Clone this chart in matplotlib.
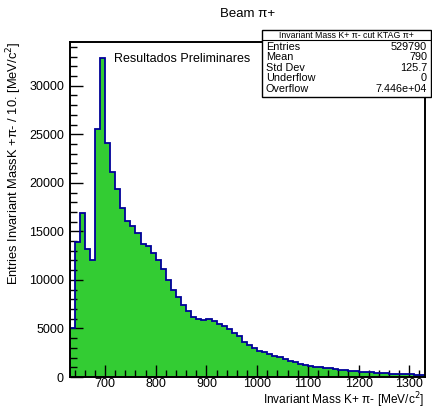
import numpy as np
import matplotlib
matplotlib.use('Agg')
import matplotlib.pyplot as plt
from matplotlib.patches import Rectangle
from matplotlib.ticker import MultipleLocator

plt.rcParams['font.family'] = ['Liberation Sans', 'DejaVu Sans']

# histogram: 10 MeV bins from 630 to 1330
edges = np.arange(630, 1331, 10)
counts = [5000, 13900, 16900, 13200, 12100, 25550, 32860,
          24100, 21130, 19340, 17400, 16100, 15550, 14790, 13720, 13480, 12720,
          12100, 11140, 10030, 9000, 8200, 7450, 6830, 6170, 5970, 5900,
          5970, 5790, 5450, 5280, 4930, 4520, 4240, 3650, 3310, 3030,
          2720, 2550, 2380, 2170, 2040, 1830, 1660, 1520, 1380, 1270,
          1170, 1070, 1000, 950, 900, 820, 760, 700, 650, 600,
          560, 520, 480, 440, 410, 380, 350, 320, 300, 280,
          260, 240, 220]

stat_names = ['Entries', 'Mean', 'Std Dev', 'Underflow', 'Overflow']
stat_values = ['529790', '790', '125.7', '0', '7.446e+04']

W, H = 432, 409
fig = plt.figure(figsize=(W / 100, H / 100), dpi=100)
ax = fig.add_axes([69.5 / W, 1 - 377 / H, (424.5 - 69.5) / W, (377 - 42) / H])

ax.stairs(counts, edges, fill=True, color='#33cc33', zorder=1)
ax.stairs(counts, edges, color='#000099', linewidth=1.3, baseline=0, zorder=2)

ax.set_xlim(630, 1330)
ax.set_ylim(0, 1.05 * max(counts))
ax.xaxis.set_major_locator(MultipleLocator(100))
ax.xaxis.set_minor_locator(MultipleLocator(20))
ax.yaxis.set_major_locator(MultipleLocator(5000))
ax.yaxis.set_minor_locator(MultipleLocator(1000))
ax.tick_params(which='both', direction='in', top=False, right=False,
               labelsize=9, width=1, color='black')
ax.tick_params(which='major', length=9, pad=4)
ax.tick_params(axis='x', which='major', pad=1)
ax.tick_params(which='minor', length=5)
for s in ax.spines.values():
    s.set_linewidth(1.4)

# axis titles (ROOT style: at the end of the axes)
fig.text(424 / W, 1 - 400 / H, 'Invariant Mass K+ π- [MeV/c$^{2}$]',
         fontsize=8.6, ha='right', va='center')
fig.text(14 / W, 1 - 42 / H, 'Entries Invariant MassK +π- / 10. [MeV/c$^{2}$]',
         fontsize=9.3, rotation=90, ha='center', va='top')

ax.text(0.125, 0.95, 'Resultados Preliminares', transform=ax.transAxes,
        fontsize=9, va='center', ha='left')

fig.text(248 / W, 1 - 14 / H, 'Beam π+', fontsize=9.5, ha='center', va='center')

# stat box
bx0, bx1, by0, by1 = 262, 431, 30, 97
fig.add_artist(Rectangle((bx0 / W, 1 - by1 / H), (bx1 - bx0) / W, (by1 - by0) / H,
                         transform=fig.transFigure, facecolor='white',
                         edgecolor='black', linewidth=1, zorder=10))
fig.add_artist(plt.Line2D([bx0 / W, bx1 / W], [1 - 40 / H, 1 - 40 / H],
                          transform=fig.transFigure, color='black', linewidth=0.8, zorder=11))
fig.text((bx0 + bx1) / 2 / W, 1 - 35 / H, 'Invariant Mass K+ π- cut KTAG π+',
         fontsize=6.3, ha='center', va='center', zorder=12)
for i, (n, v) in enumerate(zip(stat_names, stat_values)):
    y = 1 - (47 + 10.4 * i) / H
    fig.text(266 / W, y, n, fontsize=7.8, ha='left', va='center', zorder=12)
    fig.text(427 / W, y, v, fontsize=7.8, ha='right', va='center', zorder=12)

fig.savefig('out.png', dpi=100)
